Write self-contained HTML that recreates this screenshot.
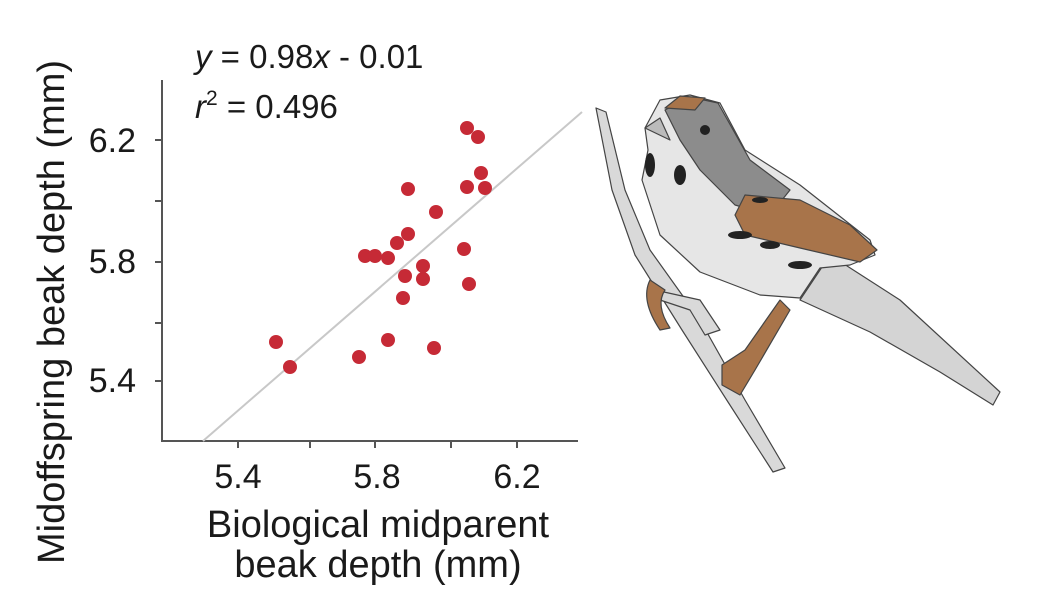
<!DOCTYPE html>
<html><head><meta charset="utf-8"><style>
html,body{margin:0;padding:0;background:#fff;}
svg{display:block}
text{font-family:"Liberation Sans",Arial,sans-serif;fill:#1a1a1a}
</style></head><body>
<svg width="1056" height="598" viewBox="0 0 1056 598" xmlns="http://www.w3.org/2000/svg">
<g stroke="#555" stroke-width="2" fill="none">
<line x1="162" y1="80" x2="162" y2="442"/>
<line x1="161" y1="441" x2="578" y2="441"/>
<line x1="155" y1="140" x2="162" y2="140"/>
<line x1="155" y1="201" x2="162" y2="201"/>
<line x1="155" y1="262" x2="162" y2="262"/>
<line x1="155" y1="323" x2="162" y2="323"/>
<line x1="155" y1="381" x2="162" y2="381"/>
<line x1="238" y1="441" x2="238" y2="448"/>
<line x1="310" y1="441" x2="310" y2="448"/>
<line x1="375" y1="441" x2="375" y2="448"/>
<line x1="451" y1="441" x2="451" y2="448"/>
<line x1="517" y1="441" x2="517" y2="448"/>
</g>
<line x1="203" y1="441" x2="582" y2="112" stroke="#c8c8c8" stroke-width="2"/>
<g fill="#c62a36">
<circle cx="467" cy="128" r="7"/><circle cx="478" cy="137" r="7"/>
<circle cx="481" cy="173" r="7"/><circle cx="467" cy="187" r="7"/>
<circle cx="485" cy="188" r="7"/><circle cx="408" cy="189" r="7"/>
<circle cx="436" cy="212" r="7"/><circle cx="408" cy="234" r="7"/>
<circle cx="397" cy="243" r="7"/><circle cx="365" cy="256" r="7"/>
<circle cx="375" cy="256" r="7"/><circle cx="388" cy="258" r="7"/>
<circle cx="464" cy="249" r="7"/><circle cx="423" cy="266" r="7"/>
<circle cx="405" cy="276" r="7"/><circle cx="423" cy="279" r="7"/>
<circle cx="469" cy="284" r="7"/><circle cx="403" cy="298" r="7"/>
<circle cx="276" cy="342" r="7"/><circle cx="388" cy="340" r="7"/>
<circle cx="434" cy="348" r="7"/><circle cx="359" cy="357" r="7"/>
<circle cx="290" cy="367" r="7"/>
</g>
<g font-size="34">
<text x="136" y="152" text-anchor="end">6.2</text>
<text x="136" y="273" text-anchor="end">5.8</text>
<text x="136" y="392" text-anchor="end">5.4</text>
<text x="238" y="488" text-anchor="middle">5.4</text>
<text x="377" y="488" text-anchor="middle">5.8</text>
<text x="517" y="488" text-anchor="middle">6.2</text>
</g>
<g font-size="33">
<text x="195" y="68"><tspan font-style="italic">y</tspan> = 0.98<tspan font-style="italic">x</tspan> - 0.01</text>
<text x="195" y="118"><tspan font-style="italic">r</tspan><tspan font-size="21" dy="-13">2</tspan><tspan dy="13"> = 0.496</tspan></text>
</g>
<g font-size="38">
<text x="378" y="537" text-anchor="middle">Biological midparent</text>
<text x="378" y="577" text-anchor="middle">beak depth (mm)</text>
<text transform="translate(64,312) rotate(-90)" text-anchor="middle">Midoffspring beak depth (mm)</text>
</g>
<g stroke="#444" stroke-width="1.2" stroke-linejoin="round">
<path d="M596,108 L606,112 L625,190 L650,250 L700,320 L745,400 L785,468 L773,472 L728,402 L682,330 L635,255 L612,190 Z" fill="#d9d9d9"/>
<path d="M655,290 L700,300 L720,330 L705,335 L690,310 L660,300 Z" fill="#d9d9d9"/>
<path d="M830,255 L900,300 L1000,392 L993,405 L940,372 L870,332 L800,300 Z" fill="#d4d4d4"/>
<path d="M645,128 L660,100 L690,95 L720,103 L745,150 L800,185 L870,240 L875,255 L850,265 L820,268 L800,298 L760,295 L700,272 L660,235 L642,180 L648,150 Z" fill="#e6e6e6"/>
<path d="M665,110 L690,97 L718,103 L750,160 L790,190 L770,215 L735,205 L700,170 L680,140 Z" fill="#8c8c8c"/>
<path d="M665,108 L680,96 L705,98 L695,110 Z" fill="#a8744a"/>
<path d="M745,195 L800,200 L850,225 L877,250 L860,262 L800,248 L745,235 L735,215 Z" fill="#a8744a"/>
<path d="M645,128 L660,118 L670,140 Z" fill="#bbb"/>
<path d="M650,280 Q640,300 660,330 L670,328 Q655,305 665,290 Z" fill="#a8744a"/>
<path d="M780,300 L745,350 L722,365 L722,385 L740,395 L755,370 L790,310 Z" fill="#a8744a"/>
</g>
<g fill="#222">
<circle cx="705" cy="130" r="5"/>
<ellipse cx="650" cy="165" rx="5" ry="12"/>
<ellipse cx="740" cy="235" rx="12" ry="4"/>
<ellipse cx="770" cy="245" rx="10" ry="4"/>
<ellipse cx="800" cy="265" rx="12" ry="4"/>
<ellipse cx="760" cy="200" rx="8" ry="3"/>
<ellipse cx="680" cy="175" rx="6" ry="10"/>
</g>
</svg>
</body></html>
